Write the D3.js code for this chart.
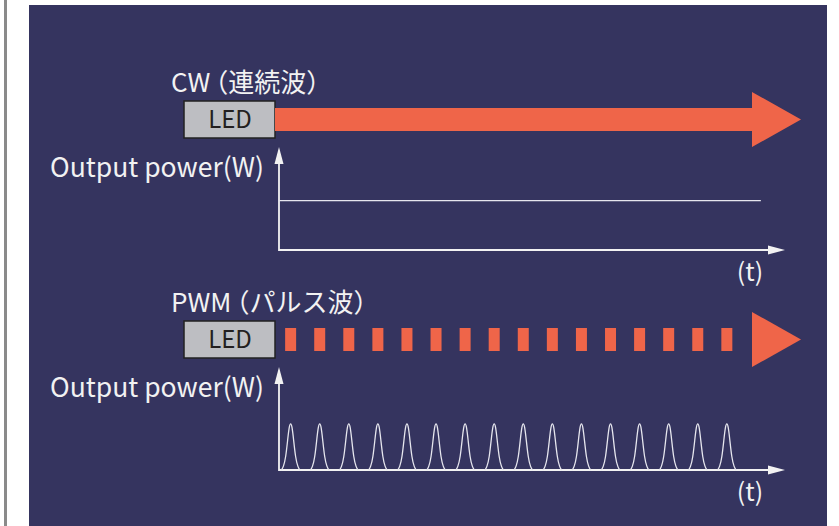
<!DOCTYPE html>
<html><head><meta charset="utf-8">
<script src="https://cdn.jsdelivr.net/npm/d3@7"></script>
<style>
html,body{margin:0;padding:0;background:#fff;}
svg{display:block;}
text{font-family:"Noto Sans CJK JP","Noto Sans",sans-serif;}
text.title{font-feature-settings:"halt";}
</style></head><body>
<svg id="c" width="839" height="526"></svg>
<script>
// ---- data ----
const sections = ["CW（連続波）", "PWM（パルス波）"];
const ledLabel = "LED";
const yAxisLabel = "Output power(W)";
const xAxisLabel = "(t)";
const cwLevel = 48;            // constant output power (relative, 0-100)
const cwEnd = 16.17;           // time the CW trace ends
const pulseTimes = [0,1,2,3,4,5,6,7,8,9,10,11,12,13,14,15];
const pulsePeak = 46;          // relative peak power of each pulse
// pulse profile: [time offset, fraction of peak]
const pulseProfile = [[-0.32,0],[-0.25,0.06],[-0.17,0.25],[-0.1,0.65],[-0.05,0.92],[0,1],[0.05,0.92],[0.1,0.65],[0.17,0.25],[0.25,0.06],[0.32,0]];

// ---- layout ----
const svg = d3.select("#c");
const W = 839, H = 526;
const bg = "#35345f", red = "#ef6549", fg = "#f2f2f2";

svg.append("rect").attr("x",4).attr("y",0).attr("width",3).attr("height",H).attr("fill","#8a8a8a");
svg.append("rect").attr("x",29).attr("y",5).attr("width",798).attr("height",H-5).attr("fill",bg);

const x = d3.scaleLinear().domain([-0.4, 17]).range([279, 785]);

function section(i, offY){
  const axisY = 250 + offY, topY = 147 + offY;
  const y = d3.scaleLinear().domain([0,100]).range([axisY, topY]);
  const g = svg.append("g");
  // title (small gap before the bracket, as in the original)
  const k = sections[i].indexOf("（");
  const tt = g.append("text").attr("class","title").attr("x",171).attr("y",92+offY).attr("fill",fg)
    .attr("font-size",26);
  tt.append("tspan").text(sections[i].slice(0,k));
  tt.append("tspan").attr("dx",5).text(sections[i].slice(k));
  // LED box
  g.append("rect").attr("x",184).attr("y",101+offY).attr("width",91).attr("height",37)
    .attr("fill","#bdbec2").attr("stroke","#222").attr("stroke-width",1.5);
  g.append("text").attr("x",230).attr("y",128+offY).attr("text-anchor","middle")
    .attr("fill","#231f20").attr("font-size",24).text(ledLabel);
  // emission
  const by0 = 108+offY, by1 = 131+offY, hy0 = 92+offY, hy1 = 147+offY, hx = 752, tip = 801;
  if(i===0){
    g.append("path").attr("fill",red)
      .attr("d",`M275,${by0}H${hx}V${hy0}L${tip},${(hy0+hy1)/2}L${hx},${hy1}V${by1}H275Z`);
  } else {
    g.selectAll("rect.p").data(pulseTimes).join("rect").attr("class","p")
      .attr("x",d=>x(d)-5.5).attr("y",by0).attr("width",11).attr("height",by1-by0).attr("fill",red);
    g.append("path").attr("fill",red)
      .attr("d",`M${hx},${hy0}L${tip},${(hy0+hy1)/2}L${hx},${hy1}Z`);
  }
  // y label
  g.append("text").attr("x",50).attr("y",177+offY).attr("fill",fg)
    .attr("font-size",26.5).text(yAxisLabel);
  // axes
  g.append("path").attr("fill","none").attr("stroke",fg).attr("stroke-width",1.8)
    .attr("d",`M${x(-0.4)},${topY+14}V${axisY}H${x(17)-14}`);
  g.append("path").attr("fill",fg)
    .attr("d",`M${x(-0.4)},${topY}L${x(-0.4)+4.5},${topY+17}H${x(-0.4)-4.5}Z`);
  g.append("path").attr("fill",fg)
    .attr("d",`M${x(17)},${axisY}L${x(17)-17},${axisY-4.5}V${axisY+4.5}Z`);
  g.append("text").attr("x",750).attr("y",281+offY).attr("text-anchor","middle")
    .attr("fill",fg).attr("font-size",25).text(xAxisLabel);
  // traces
  if(i===0){
    g.append("line").attr("x1",x(-0.4)).attr("x2",x(cwEnd)).attr("y1",y(cwLevel)).attr("y2",y(cwLevel))
      .attr("stroke","#e6e6ee").attr("stroke-width",1.3);
  } else {
    const line = d3.line().x(d=>x(d[0])).y(d=>y(d[1])).curve(d3.curveBasis);
    pulseTimes.forEach(t=>{
      const pts = pulseProfile.map(p=>[t+p[0], p[1]*pulsePeak]);
      g.append("path").attr("fill","none").attr("stroke","#e6e6ee").attr("stroke-width",1.3)
        .attr("d",line(pts));
    });
  }
}
section(0,0);
section(1,220);
</script>
</body></html>
